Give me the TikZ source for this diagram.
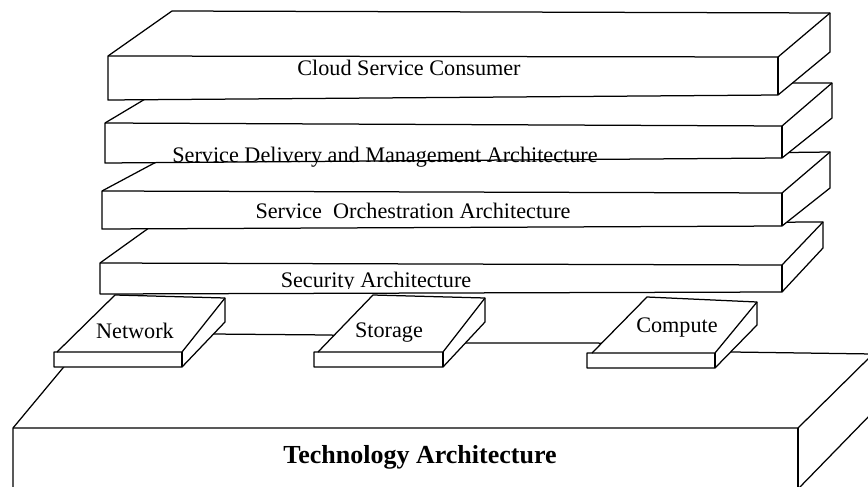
\documentclass[tikz,border=0pt]{standalone}
\usepackage{fontspec}
\setmainfont{Liberation Serif}
\begin{document}
\begin{tikzpicture}[x=1pt,y=-1pt,line width=1.25pt,line join=round,
  face/.style={draw=black,fill=white},
  lbl/.style={anchor=base,inner sep=0pt,font=\fontsize{22.2}{25}\selectfont},
  biglbl/.style={anchor=base,inner sep=0pt,font=\fontsize{26}{30}\selectfont\bfseries}]
\clip (0,0) rectangle (868,487);
\fill[white] (0,0) rectangle (868,487);

% ---------- Technology base ----------
\draw[face] (13,428) -- (92,333) -- (330,335) -- (465,343) -- (597,343) -- (732,352) -- (873,354)
  -- (873,412) -- (798,489) -- (13,489) -- cycle;
\draw (13,428) -- (798,428) -- (873,354);
\draw (798,428) -- (798,489);

% ---------- Network ----------
\draw[face] (54,352) -- (57,352) -- (115,295) -- (225,298) -- (225,322) -- (182,367) -- (54,367) -- cycle;
\draw (57,352) -- (182,352) -- (225,298);
\draw (182,352) -- (182,367);

% ---------- Storage ----------
\draw[face] (314,352) -- (318,352) -- (373,295) -- (485,298) -- (485,322) -- (443,367) -- (314,367) -- cycle;
\draw (318,352) -- (443,352) -- (485,298);
\draw (443,352) -- (443,367);

% ---------- Compute ----------
\draw[face] (587,353) -- (592,353) -- (647,297) -- (757,302) -- (757,325) -- (715,368) -- (587,368) -- cycle;
\draw (592,353) -- (715,353) -- (757,302);
\draw (715,353) -- (715,368);

% ---------- Security slab ----------
\draw[face] (100,263) -- (153,225) -- (823,222) -- (823,248) -- (782,292) -- (100,294) -- cycle;
\draw (100,263) -- (782,265) -- (823,222);
\draw (782,265) -- (782,292);

% ---------- Orchestration slab ----------
\draw[face] (102,191) -- (160,160) -- (830,152) -- (830,188) -- (782,226) -- (102,229) -- cycle;
\draw (102,191) -- (782,193) -- (830,152);
\draw (782,193) -- (782,226);

% ---------- Delivery slab ----------
\draw[face] (105,123) -- (172,83) -- (832,83) -- (832,118) -- (782,158) -- (105,163) -- cycle;
\draw (105,123) -- (782,126) -- (832,83);
\draw (782,126) -- (782,158);

% ---------- Cloud slab ----------
\draw[face] (108,56) -- (172,11) -- (830,13) -- (830,52) -- (778,95) -- (108,100) -- cycle;
\draw (108,56) -- (778,57) -- (830,13);
\draw (778,57) -- (778,95);

% ---------- labels ----------
\node[lbl] (cloud) at (409,76) {Cloud Service Consumer};
\node[lbl] (deliv) at (385,162) {Service Delivery and Management Architecture};
\node[lbl] (orch) at (413,218) {Service\ \ Orchestration Architecture};
\begin{scope}
\clip (0,0) rectangle (868,288);
\node[lbl] (sec) at (376,287) {Security Architecture};
\end{scope}
\node[lbl] (net) at (135,338) {Network};
\node[lbl] (stor) at (389,337) {Storage};
\node[lbl] (comp) at (677,332) {Compute};
\node[biglbl] (tech) at (420,463) {Technology Architecture};
\end{tikzpicture}
\end{document}
